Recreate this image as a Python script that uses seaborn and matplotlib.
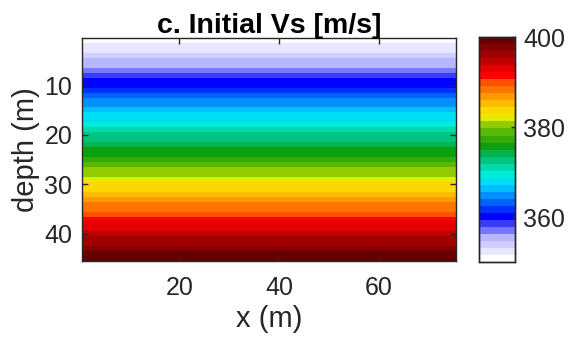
import numpy as np
import pandas as pd
import matplotlib
matplotlib.use("Agg")
import matplotlib.pyplot as plt
import seaborn as sns
from matplotlib.colors import LinearSegmentedColormap, ListedColormap

# ---- data ----
x_m = list(range(1, 76))           # x positions (m)
depth_m = list(range(1, 46))       # depth (m)
vs_profile = [350.6, 351.7, 352.8, 354.0, 355.1, 356.2, 357.3, 358.5, 359.6, 360.7,
              361.8, 363.0, 364.1, 365.2, 366.3, 367.5, 368.6, 369.7, 370.8, 372.0,
              373.1, 374.2, 375.3, 376.5, 377.6, 378.7, 379.8, 381.0, 382.1, 383.2,
              384.3, 385.5, 386.6, 387.7, 388.8, 390.0, 391.1, 392.2, 393.3, 394.5,
              395.6, 396.7, 397.8, 399.0, 399.9]
x_ticks = [20, 40, 60]
y_ticks = [10, 20, 30, 40]
cbar_ticks = [360, 380, 400]
vmin, vmax = 350, 400

# ---- colormap (32 discrete levels) ----
anchors = [
    (0.00, (1.00, 1.00, 1.00)),
    (0.10, (0.70, 0.70, 1.00)),
    (0.19, (0.00, 0.00, 1.00)),
    (0.27, (0.00, 0.45, 1.00)),
    (0.33, (0.00, 0.80, 1.00)),
    (0.38, (0.00, 0.95, 0.90)),
    (0.46, (0.00, 0.75, 0.45)),
    (0.52, (0.05, 0.62, 0.05)),
    (0.60, (0.45, 0.75, 0.00)),
    (0.64, (0.85, 0.92, 0.00)),
    (0.66, (0.98, 0.92, 0.00)),
    (0.72, (1.00, 0.70, 0.00)),
    (0.81, (1.00, 0.30, 0.00)),
    (0.84, (1.00, 0.00, 0.00)),
    (1.00, (0.40, 0.00, 0.00)),
]
base = LinearSegmentedColormap.from_list("vs", anchors)
cmap = ListedColormap(base(np.linspace(0, 1, 32)))

df = pd.DataFrame(np.repeat(np.array(vs_profile)[:, None], len(x_m), axis=1),
                  index=depth_m, columns=x_m)

# ---- figure ----
plt.rcParams['font.family'] = ['Liberation Sans', 'DejaVu Sans']
txt = '#262626'
fig = plt.figure(figsize=(5.73, 3.40), dpi=100)
ax = fig.add_axes([0.143, 0.232, 0.653, 0.656])
cax = fig.add_axes([0.836, 0.229, 0.063, 0.662])

sns.heatmap(df, ax=ax, cmap=cmap, vmin=vmin, vmax=vmax, cbar=True, cbar_ax=cax,
            xticklabels=False, yticklabels=False)

ax.set_xticks([x_m.index(v) + 0.5 for v in x_ticks])
ax.set_xticklabels([str(v) for v in x_ticks])
ax.set_yticks([depth_m.index(v) + 0.5 for v in y_ticks])
ax.set_yticklabels([str(v) for v in y_ticks], rotation=0)
ax.tick_params(direction='in', length=4, width=1, colors='#262626',
               labelsize=18, labelcolor=txt, top=True, right=True, pad=7)
ax.tick_params(axis='x', pad=11)
for s in ax.spines.values():
    s.set_visible(True)
    s.set_color('#262626')
    s.set_linewidth(1)

ax.set_xlabel('x (m)', fontsize=21, color=txt, labelpad=3)
ax.set_ylabel('depth (m)', fontsize=21, color=txt, labelpad=3)
ax.set_title('c. Initial Vs [m/s]', fontsize=20.5, fontweight='bold', color='black', pad=4)

cax.set_yticks(cbar_ticks)
cax.set_yticklabels([str(v) for v in cbar_ticks])
cax.tick_params(direction='in', length=3, width=1, colors='#262626', labelsize=18,
                labelcolor=txt, pad=6)
for s in cax.spines.values():
    s.set_visible(True)
    s.set_color('#262626')
    s.set_linewidth(1)

fig.savefig('out.png', dpi=100)
